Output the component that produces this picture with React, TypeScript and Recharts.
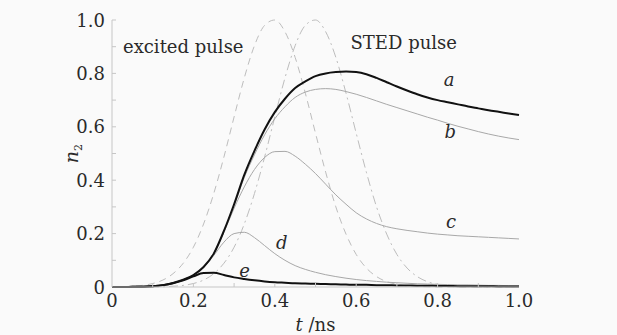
import { LineChart, Line, XAxis, YAxis, ReferenceDot, Label } from "recharts";

// time axis, ns (0.025 ns grid)
const times = [
  0, 0.025, 0.05, 0.075, 0.1, 0.125, 0.15, 0.175, 0.2, 0.225, 0.25, 0.275, 0.3, 0.325,
  0.35, 0.375, 0.4, 0.425, 0.45, 0.475, 0.5, 0.525, 0.55, 0.575, 0.6, 0.625, 0.65, 0.675,
  0.7, 0.725, 0.75, 0.775, 0.8, 0.825, 0.85, 0.875, 0.9, 0.925, 0.95, 0.975, 1.0,
];

// normalised pulse envelopes
const excitedPulse = [
  0, 0.001, 0.003, 0.006, 0.013, 0.026, 0.05, 0.089, 0.149, 0.236, 0.35, 0.487, 0.637, 0.783,
  0.904, 0.98, 1.0, 0.956, 0.86, 0.726, 0.576, 0.43, 0.3, 0.198, 0.122, 0.071, 0.039, 0.02,
  0.01, 0.004, 0.002, 0.001, 0, 0, 0, 0, 0, 0, 0, 0, 0,
];
const stedPulse = [
  0, 0, 0, 0, 0, 0.001, 0.003, 0.006, 0.013, 0.026, 0.05, 0.089, 0.149, 0.236,
  0.35, 0.487, 0.637, 0.783, 0.904, 0.98, 1.0, 0.956, 0.86, 0.726, 0.576, 0.43, 0.3, 0.198,
  0.122, 0.071, 0.039, 0.02, 0.01, 0.004, 0.002, 0.001, 0, 0, 0, 0, 0,
];

// upper-level population n2 for curves a..e
const n2A = [
  0, 0, 0.0005, 0.001, 0.003, 0.007, 0.015, 0.027, 0.045, 0.075, 0.125, 0.21, 0.31, 0.42,
  0.51, 0.59, 0.655, 0.705, 0.745, 0.77, 0.79, 0.8, 0.805, 0.807, 0.805, 0.797, 0.783, 0.767,
  0.751, 0.736, 0.722, 0.71, 0.7, 0.692, 0.684, 0.676, 0.669, 0.662, 0.656, 0.65, 0.644,
];
const n2B = [
  0, 0, 0.0005, 0.001, 0.003, 0.007, 0.015, 0.027, 0.045, 0.075, 0.125, 0.21, 0.305, 0.41,
  0.495, 0.57, 0.63, 0.675, 0.71, 0.73, 0.74, 0.743, 0.74, 0.732, 0.722, 0.71, 0.697, 0.684,
  0.672, 0.66, 0.648, 0.636, 0.625, 0.613, 0.602, 0.592, 0.582, 0.573, 0.565, 0.558, 0.552,
];
const n2C = [
  0, 0, 0.0005, 0.001, 0.003, 0.007, 0.015, 0.027, 0.045, 0.075, 0.125, 0.205, 0.295, 0.375,
  0.44, 0.485, 0.507, 0.508, 0.49, 0.46, 0.425, 0.385, 0.345, 0.31, 0.278, 0.255, 0.238, 0.226,
  0.218, 0.212, 0.207, 0.202, 0.198, 0.195, 0.192, 0.19, 0.188, 0.186, 0.184, 0.182, 0.18,
];
const n2D = [
  0, 0, 0.0005, 0.001, 0.003, 0.007, 0.015, 0.027, 0.045, 0.073, 0.118, 0.168, 0.2, 0.205,
  0.185, 0.155, 0.125, 0.1, 0.08, 0.066, 0.055, 0.046, 0.039, 0.033, 0.028, 0.024, 0.021, 0.018,
  0.016, 0.014, 0.012, 0.011, 0.01, 0.009, 0.008, 0.008, 0.007, 0.006, 0.006, 0.005, 0.005,
];
const n2E = [
  0, 0, 0.0005, 0.001, 0.003, 0.007, 0.014, 0.025, 0.04, 0.052, 0.053, 0.045, 0.036, 0.03,
  0.025, 0.021, 0.018, 0.016, 0.014, 0.013, 0.012, 0.011, 0.01, 0.009, 0.008, 0.008, 0.007, 0.007,
  0.006, 0.006, 0.005, 0.005, 0.004, 0.004, 0.003, 0.003, 0.003, 0.003, 0.002, 0.002, 0.002,
];

const axisTicks = [0, 0.1, 0.2, 0.3, 0.4, 0.5, 0.6, 0.7, 0.8, 0.9, 1.0];

// curve tags: [text, t, n2]
const curveTags: [string, number, number][] = [
  ["a", 0.828, 0.775],
  ["b", 0.831, 0.58],
  ["c", 0.833, 0.243],
  ["d", 0.417, 0.164],
  ["e", 0.326, 0.059],
];

const data = times.map((t, i) => ({
  t,
  excited: excitedPulse[i],
  sted: stedPulse[i],
  a: n2A[i],
  b: n2B[i],
  c: n2C[i],
  d: n2D[i],
  e: n2E[i],
}));

const SERIF = "'DejaVu Serif', 'Liberation Serif', serif";
const AXIS = "#c6c6c6";
const INK = "#2a2a2a";

const fmt = (v: number) => (v === 0 ? "0" : v.toFixed(1));
const isMajor = (v: number) => Math.round(v * 10) % 2 === 0;

const txt = (size: number, italic = false) => ({
  fontFamily: SERIF,
  fontSize: size,
  fontStyle: italic ? "italic" : "normal",
});

function XTick(props: any) {
  const { x, y, payload } = props;
  const v = payload.value as number;
  return (
    <g>
      {v > 0 && v < 1 && <line x1={x} x2={x} y1={y} y2={y - 4} stroke={AXIS} />}
      {isMajor(v) && (
        <text x={x} y={y + 20} textAnchor="middle" fill={INK} style={txt(18)}>
          {fmt(v)}
        </text>
      )}
    </g>
  );
}

function YTick(props: any) {
  const { x, y, payload } = props;
  const v = payload.value as number;
  return (
    <g>
      {v > 0 && <line x1={x} x2={x + 4} y1={y} y2={y} stroke={AXIS} />}
      {isMajor(v) && (
        <text x={x - 7} y={y + 6.5} textAnchor="end" fill={INK} style={txt(18)}>
          {fmt(v)}
        </text>
      )}
    </g>
  );
}

function XTitle(props: any) {
  const { viewBox } = props;
  const cx = viewBox.x + viewBox.width / 2;
  return (
    <text x={cx} y={viewBox.y + 44} textAnchor="middle" fill={INK} style={txt(18)}>
      <tspan style={txt(18, true)}>t</tspan>
      <tspan> /ns</tspan>
    </text>
  );
}

function YTitle(props: any) {
  const { viewBox } = props;
  const x = viewBox.x + 78;
  const y = viewBox.y + viewBox.height / 2;
  return (
    <text x={x} y={y} transform={`rotate(-90, ${x}, ${y})`} textAnchor="middle" fill={INK} style={txt(19)}>
      <tspan style={txt(19, true)}>n</tspan>
      <tspan style={txt(11)} dy={4}>2</tspan>
    </text>
  );
}

function tagContent(text: string, italic: boolean, anchor: "middle" | "start") {
  return (props: any) => {
    const { viewBox } = props;
    return (
      <text x={viewBox.x} y={viewBox.y + 6} textAnchor={anchor} fill={INK} style={txt(18, italic)}>
        {text}
      </text>
    );
  };
}

export default function App() {
  return (
    <div style={{ position: "absolute", left: 0, top: 0, width: 617, height: 335, background: "#fafafa" }}>
      <LineChart width={617} height={335} data={data} margin={{ top: 20, right: 98, bottom: 0, left: 0 }}>
        <XAxis
          dataKey="t"
          type="number"
          domain={[0, 1]}
          ticks={axisTicks}
          height={48}
          tickSize={0}
          tickMargin={0}
          tick={XTick}
          stroke={AXIS}
          interval={0}
        >
          <Label content={XTitle} />
        </XAxis>
        <YAxis
          type="number"
          domain={[0, 1]}
          ticks={axisTicks}
          width={112}
          tickSize={0}
          tickMargin={0}
          tick={YTick}
          stroke={AXIS}
          interval={0}
        >
          <Label content={YTitle} />
        </YAxis>
        <Line dataKey="excited" type="monotone" stroke="#bdbdbd" strokeWidth={1} strokeDasharray="7 5" dot={false} isAnimationActive={false} />
        <Line dataKey="sted" type="monotone" stroke="#bdbdbd" strokeWidth={1} strokeDasharray="9 4 2 4" dot={false} isAnimationActive={false} />
        <Line dataKey="b" type="monotone" stroke="#a8a8a8" strokeWidth={1} dot={false} isAnimationActive={false} />
        <Line dataKey="c" type="monotone" stroke="#a8a8a8" strokeWidth={1} dot={false} isAnimationActive={false} />
        <Line dataKey="d" type="monotone" stroke="#a8a8a8" strokeWidth={1} dot={false} isAnimationActive={false} />
        <Line dataKey="e" type="monotone" stroke="#111" strokeWidth={2} dot={false} isAnimationActive={false} />
        <Line dataKey="a" type="monotone" stroke="#111" strokeWidth={2} dot={false} isAnimationActive={false} />
        {curveTags.map(([text, t, v]) => (
          <ReferenceDot key={text} x={t} y={v} r={0} fill="none" stroke="none" label={{ content: tagContent(text, true, "middle") }} />
        ))}
        <ReferenceDot x={0.027} y={0.898} r={0} fill="none" stroke="none" label={{ content: tagContent("excited pulse", false, "start") }} />
        <ReferenceDot x={0.586} y={0.914} r={0} fill="none" stroke="none" label={{ content: tagContent("STED pulse", false, "start") }} />
      </LineChart>
    </div>
  );
}
